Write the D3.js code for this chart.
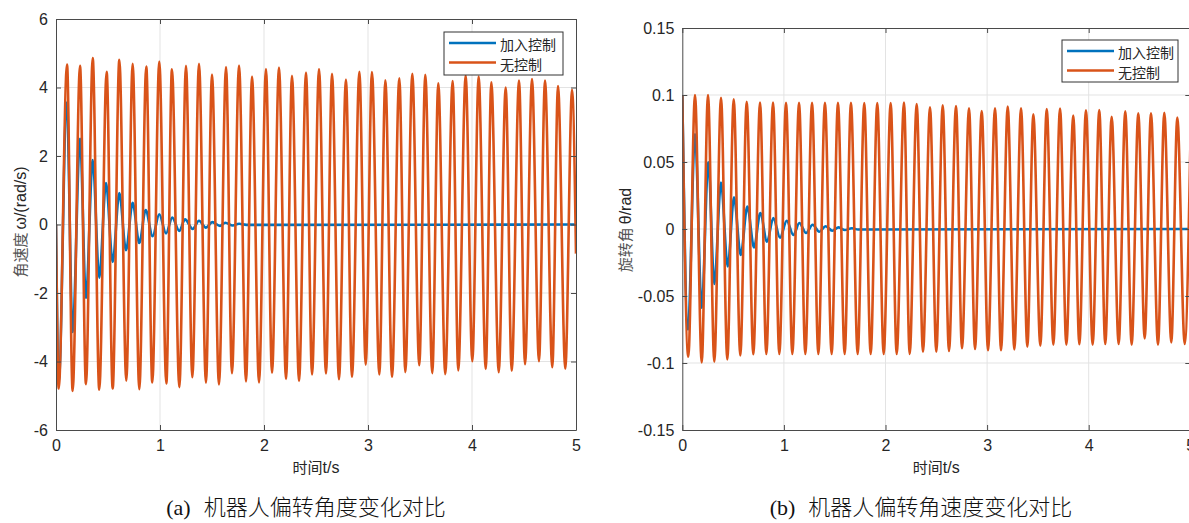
<!DOCTYPE html>
<html>
<head>
<meta charset="utf-8">
<script src="https://cdn.jsdelivr.net/npm/d3@7"></script>
<style>
  body { margin: 0; background: #fff; }
  svg { display: block; }
  .tick text { font-family: Arial, "Liberation Sans", sans-serif; font-size: 16px; fill: #262626; }
</style>
</head>
<body>
<div id="chart"></div>
<script>
const WIDTH = 1189;
const HEIGHT = 523;
const BLUE = "#0072BD";
const ORANGE = "#D95319";

const xTicks = [0, 1, 2, 3, 4, 5];
const leftYTicks = [-6, -4, -2, 0, 2, 4, 6];
const rightYTicks = [-0.15, -0.1, -0.05, 0, 0.05, 0.1, 0.15];
const legendNames = ["加入控制", "无控制"];

// (a) angular velocity, no control: turning points
const leftFreeT = [0, 0.026, 0.106, 0.160, 0.231, 0.288, 0.353, 0.416, 0.487, 0.545, 0.609, 0.676, 0.737, 0.801, 0.868, 0.926, 0.993,
  1.061, 1.115, 1.186, 1.250, 1.311, 1.375, 1.442, 1.500, 1.567, 1.635, 1.692, 1.760, 1.827, 1.885, 1.952, 2.019,
  2.077, 2.144, 2.212, 2.269, 2.337, 2.404, 2.462, 2.529, 2.596, 2.654, 2.721, 2.788, 2.846, 2.917, 2.978, 3.038,
  3.109, 3.167, 3.231, 3.301, 3.359, 3.426, 3.493, 3.551, 3.618, 3.676, 3.743, 3.814, 3.868, 3.939, 4.003, 4.064,
  4.132, 4.186, 4.257, 4.324, 4.382, 4.452, 4.510, 4.577, 4.644, 4.702, 4.772, 4.827, 4.897, 4.962, 5.0];
const leftFreeV = [0, -4.79, 4.67, -4.86, 4.63, -4.66, 4.86, -4.82, 4.46, -4.79, 4.81, -4.56, 4.69, -4.81, 4.61, -4.61, 4.76,
  -4.64, 4.53, -4.75, 4.63, -4.46, 4.69, -4.62, 4.38, -4.67, 4.60, -4.34, 4.64, -4.58, 4.32, -4.61, 4.54,
  -4.33, 4.58, -4.51, 4.34, -4.57, 4.44, -4.38, 4.54, -4.35, 4.40, -4.52, 4.23, -4.45, 4.46, -4.09, 4.45,
  -4.38, 4.21, -4.45, 4.27, -4.31, 4.40, -4.11, 4.37, -4.34, 4.12, -4.37, 4.19, -4.26, 4.35, -3.99, 4.32,
  -4.22, 4.15, -4.31, 4.00, -4.27, 4.20, -4.08, 4.25, -3.99, 4.20, -4.17, 4.04, -4.21, 3.93, -0.85];

// (a) angular velocity, with control
const leftCtrlT = [0, 0.026, 0.103, 0.160, 0.231, 0.288, 0.353, 0.416, 0.481, 0.545, 0.609, 0.673, 0.737, 0.801, 0.862, 0.929,
  0.993, 1.058, 1.118, 1.186, 1.240, 1.314, 1.375, 1.442, 1.503, 1.577, 1.628, 1.700, 1.760, 1.830, 5.0];
const leftCtrlV = [0, -4.6, 3.56, -3.14, 2.50, -2.14, 1.88, -1.55, 1.21, -1.09, 0.92, -0.75, 0.63, -0.54, 0.42, -0.34,
  0.30, -0.26, 0.20, -0.19, 0.15, -0.13, 0.11, -0.09, 0.07, -0.04, 0.05, -0.03, 0.02, -0.01, 0];

// (b) rotation angle, no control
const rightFreeT = [0, 0.059, 0.125, 0.191, 0.253, 0.315, 0.381, 0.443, 0.506, 0.571, 0.634, 0.699, 0.765, 0.827, 0.893, 0.955,
  1.021, 1.083, 1.149, 1.211, 1.277, 1.339, 1.404, 1.470, 1.532, 1.598, 1.660, 1.726, 1.791, 1.854, 1.919, 1.982,
  2.051, 2.110, 2.182, 2.238, 2.307, 2.369, 2.438, 2.500, 2.563, 2.625, 2.694, 2.753, 2.822, 2.881, 2.947, 3.009,
  3.078, 3.137, 3.203, 3.268, 3.334, 3.396, 3.455, 3.524, 3.587, 3.652, 3.718, 3.780, 3.848, 3.908, 3.973, 4.039,
  4.104, 4.163, 4.226, 4.295, 4.360, 4.423, 4.488, 4.551, 4.613, 4.682, 4.744, 4.813, 4.872, 4.945, 5.0];
const rightFreeV = [0.1, -0.0953, 0.1, -0.0995, 0.1, -0.099, 0.098, -0.0973, 0.0968, -0.0943, 0.095, -0.0935, 0.0943, -0.0933, 0.0943, -0.0933,
  0.0942, -0.0933, 0.0942, -0.0933, 0.0942, -0.0933, 0.0942, -0.0933, 0.0941, -0.0933, 0.0941, -0.0933, 0.094, -0.0933, 0.094, -0.0933,
  0.094, -0.0933, 0.0943, -0.0933, 0.0933, -0.0916, 0.0908, -0.0916, 0.0923, -0.091, 0.0918, -0.089, 0.0901, -0.0896, 0.0881, -0.0905,
  0.0901, -0.0905, 0.0913, -0.0898, 0.0901, -0.0878, 0.0856, -0.087, 0.0896, -0.0863, 0.0898, -0.0863, 0.0846, -0.086, 0.0886, -0.0863,
  0.0888, -0.0858, 0.0838, -0.0858, 0.0878, -0.0863, 0.0863, -0.0816, 0.0863, -0.0863, 0.0868, -0.0846, 0.0831, -0.0858, 0.06];

// (b) rotation angle, with control
const rightCtrlT = [0, 0.056, 0.125, 0.191, 0.256, 0.315, 0.381, 0.447, 0.509, 0.575, 0.640, 0.706, 0.768, 0.834, 0.896, 0.962,
  1.028, 1.093, 1.152, 1.218, 1.283, 1.348, 1.411, 1.476, 1.539, 1.600, 1.670, 1.730, 5.0];
const rightCtrlV = [0.1, -0.075, 0.0707, -0.0587, 0.0498, -0.041, 0.0346, -0.028, 0.0237, -0.0194, 0.0167, -0.0137, 0.0119, -0.0095, 0.0082, -0.0065,
  0.0062, -0.0045, 0.0045, -0.003, 0.0032, -0.002, 0.002, -0.0013, 0.0012, -0.0008, 0.0006, -0.0004, 0];

const svg = d3.select("#chart")
  .append("svg")
  .attr("width", WIDTH)
  .attr("height", HEIGHT);

svg.append("rect").attr("width", WIDTH).attr("height", HEIGHT).attr("fill", "#fff");

function drawPanel(p) {
  const X = d3.scaleLinear().domain([0, 5]).range([p.left, p.right]);
  const Y = d3.scaleLinear().domain(p.yDomain).range([p.bottom, p.top]);
  const g = svg.append("g");

  // grid
  g.append("g")
    .selectAll("line.gx")
    .data(xTicks.slice(1, -1))
    .enter()
    .append("line")
    .attr("x1", (d) => X(d)).attr("x2", (d) => X(d))
    .attr("y1", p.top).attr("y2", p.bottom)
    .attr("stroke", "#e3e3e3").attr("stroke-width", 1);
  g.append("g")
    .selectAll("line.gy")
    .data(p.yTicks.slice(1, -1))
    .enter()
    .append("line")
    .attr("x1", p.left).attr("x2", p.right)
    .attr("y1", (d) => Y(d)).attr("y2", (d) => Y(d))
    .attr("stroke", "#e3e3e3").attr("stroke-width", 1);

  const clipId = "clip-" + p.id;
  svg.append("clipPath").attr("id", clipId)
    .append("rect")
    .attr("x", p.left).attr("y", p.top)
    .attr("width", p.right - p.left).attr("height", p.bottom - p.top);

  const line = d3.line()
    .x((d) => X(d[0]))
    .y((d) => Y(d[1]))
    .curve(d3.curveMonotoneX);

  p.series.forEach((s) => {
    g.append("path")
      .datum(d3.zip(s.t, s.v))
      .attr("clip-path", "url(#" + clipId + ")")
      .attr("fill", "none")
      .attr("stroke", s.color)
      .attr("stroke-width", 2.6)
      .attr("stroke-linejoin", "round")
      .attr("d", line);
  });

  // axes box with inward ticks
  const fmt = (d) => String(d);
  const axes = [
    g.append("g").attr("transform", "translate(0," + p.bottom + ")")
      .call(d3.axisBottom(X).tickValues(xTicks).tickSizeInner(-5).tickSizeOuter(0).tickPadding(10).tickFormat(fmt)),
    g.append("g").attr("transform", "translate(0," + p.top + ")")
      .call(d3.axisTop(X).tickValues(xTicks).tickSizeInner(-5).tickSizeOuter(0).tickFormat("")),
    g.append("g").attr("transform", "translate(" + p.left + ",0)")
      .call(d3.axisLeft(Y).tickValues(p.yTicks).tickSizeInner(-5).tickSizeOuter(0).tickPadding(8).tickFormat(fmt)),
    g.append("g").attr("transform", "translate(" + p.right + ",0)")
      .call(d3.axisRight(Y).tickValues(p.yTicks).tickSizeInner(-5).tickSizeOuter(0).tickFormat("")),
  ];
  axes.forEach((a) => {
    a.select(".domain").attr("stroke", "#4a4a4a");
    a.selectAll(".tick line").attr("stroke", "#4a4a4a");
  });

  // axis labels
  g.append("text")
    .attr("x", (p.left + p.right) / 2)
    .attr("y", 473)
    .attr("text-anchor", "middle")
    .attr("fill", "#262626")
    .call((t) => {
      t.append("tspan").attr("font-family", "'Noto Sans CJK SC'").attr("font-size", 15).text("时间");
      t.append("tspan").attr("font-family", "Arial, 'Liberation Sans'").attr("font-size", 16).text("t/s");
    });

  g.append("text")
    .attr("transform", "translate(" + p.yLabelX + "," + p.yLabelY + ") rotate(-90)")
    .attr("text-anchor", "middle")
    .attr("fill", "#262626")
    .call((t) => {
      t.append("tspan").attr("font-family", "'Noto Sans CJK SC'").attr("font-size", 15).attr("fill", "#555").text(p.yLabel[0]);
      t.append("tspan").attr("dx", 3).attr("font-family", "Arial, 'Liberation Sans'").attr("font-size", 16).text(p.yLabel[1]);
    });

  // legend
  const lg = g.append("g");
  lg.append("rect")
    .attr("x", p.legend.x).attr("y", p.legend.y)
    .attr("width", p.legend.w).attr("height", p.legend.h)
    .attr("fill", "#fff").attr("stroke", "#333").attr("stroke-width", 1);
  legendNames.forEach((name, i) => {
    const ry = p.legend.y + 11 + i * 19.5;
    lg.append("line")
      .attr("x1", p.legend.x + 5).attr("x2", p.legend.x + 52)
      .attr("y1", ry).attr("y2", ry)
      .attr("stroke", p.series[i].color).attr("stroke-width", 2.6);
    lg.append("text")
      .attr("x", p.legend.x + 56).attr("y", ry + 1)
      .attr("dominant-baseline", "central")
      .attr("font-family", "'Noto Sans CJK SC'")
      .attr("font-size", 14)
      .attr("fill", "#262626")
      .text(name);
  });

  // caption
  svg.append("text")
    .attr("x", p.captionX)
    .attr("y", 515)
    .attr("text-anchor", "middle")
    .attr("fill", "#111")
    .call((t) => {
      t.append("tspan").attr("font-family", "'Liberation Serif', 'Times New Roman', serif").attr("font-size", 22).text(p.caption[0]);
      t.append("tspan").attr("dx", 13).attr("font-family", "'Noto Sans CJK SC'").attr("font-size", 22).attr("font-weight", 300).text(p.caption[1]);
    });
}

drawPanel({
  id: "a",
  left: 56, right: 576, top: 19, bottom: 430,
  yDomain: [-6, 6], yTicks: leftYTicks,
  series: [
    { t: leftCtrlT, v: leftCtrlV, color: BLUE },
    { t: leftFreeT, v: leftFreeV, color: ORANGE },
  ],
  legend: { x: 444, y: 32, w: 119, h: 43 },
  yLabel: ["角速度", "ω/(rad/s)"], yLabelX: 26, yLabelY: 222,
  caption: ["(a)", "机器人偏转角度变化对比"], captionX: 306,
});

drawPanel({
  id: "b",
  left: 682.3, right: 1190.3, top: 28, bottom: 430,
  yDomain: [-0.15, 0.15], yTicks: rightYTicks,
  series: [
    { t: rightCtrlT, v: rightCtrlV, color: BLUE },
    { t: rightFreeT, v: rightFreeV, color: ORANGE },
  ],
  legend: { x: 1062, y: 40, w: 116, h: 42 },
  yLabel: ["旋转角", "θ/rad"], yLabelX: 631, yLabelY: 230,
  caption: ["(b)", "机器人偏转角速度变化对比"], captionX: 921,
});
</script>
</body>
</html>
